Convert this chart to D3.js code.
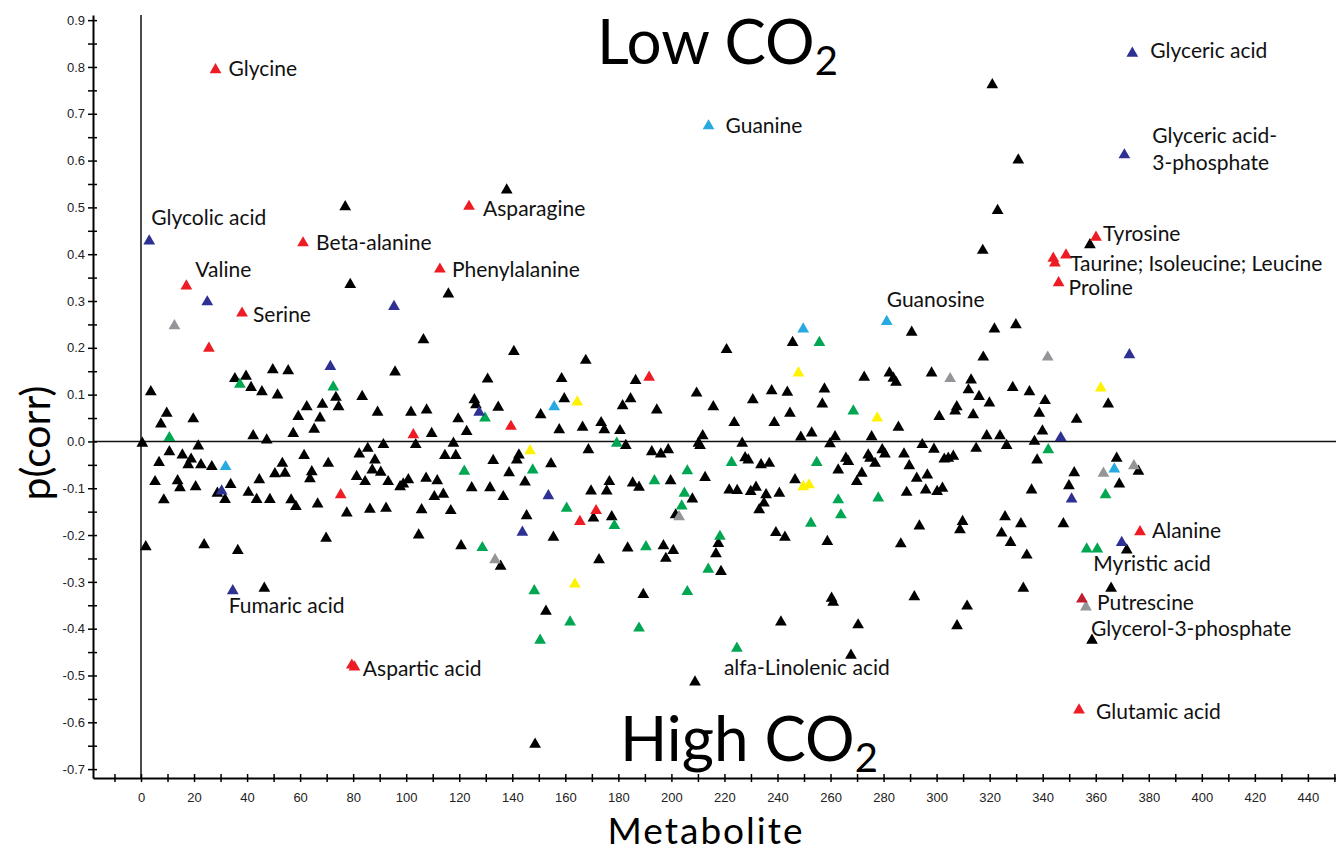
<!DOCTYPE html>
<html>
<head>
<meta charset="utf-8">
<script src="https://cdn.jsdelivr.net/npm/d3@7"></script>
<style>
  body { margin: 0; background: #fff; }
  svg { display: block; }
</style>
</head>
<body>
<div id="chart"></div>
<script>
// metabolite index, p(corr) -- one array per colour class
const black = [
  [77.0,0.501],[78.9,0.335],
  [106.5,0.217],[95.8,0.148],[49.7,0.153],[55.5,0.151],[35.4,0.134],[39.6,0.139],[41.5,0.115],[45.6,0.106],
  [51.5,0.099],[73.5,0.094],[74.5,0.074],[68.4,0.079],[62.5,0.074],[67.5,0.050],[59.3,0.053],[65.3,0.026],
  [57.4,0.017],[83.4,0.096],[89.2,0.062],[101.8,0.062],[107.7,0.067],[3.7,0.106],[9.7,0.060],[7.5,0.037],
  [19.7,0.048],[0.5,-0.004],[21.6,-0.010],[42.3,0.012],[47.4,0.003],[103.6,-0.007],[91.4,-0.007],[85.5,-0.015],
  [82.3,-0.027],[88.2,-0.040],[87.2,-0.061],[90.4,-0.066],[81.3,-0.075],[84.5,-0.086],[93.2,-0.086],[97.7,-0.097],
  [98.9,-0.091],[100.8,-0.082],[107.5,-0.079],[10.7,-0.022],[15.6,-0.029],[18.9,-0.038],[6.8,-0.045],[17.8,-0.050],
  [22.6,-0.050],[26.7,-0.054],[5.3,-0.086],[13.8,-0.084],[14.7,-0.099],[20.6,-0.097],[8.6,-0.125],[28.8,-0.111],
  [31.7,-0.124],[33.8,-0.092],[40.5,-0.109],[43.6,-0.124],[48.6,-0.124],[44.6,-0.082],[50.5,-0.069],[53.3,-0.047],
  [54.3,-0.068],[61.5,-0.030],[64.4,-0.065],[63.7,-0.080],[70.6,-0.047],[56.6,-0.125],[58.4,-0.139],[66.6,-0.134],
  [77.6,-0.153],[86.3,-0.145],[92.4,-0.143],[105.8,-0.146],[69.8,-0.207],[104.7,-0.200],[1.8,-0.225],[23.8,-0.221],
  [36.5,-0.233],[46.5,-0.314],
  [137.9,0.537],[115.9,0.315],
  [140.6,0.192],[167.7,0.173],[130.7,0.133],[158.6,0.134],[186.5,0.130],[209.5,0.103],[125.7,0.089],[126.3,0.078],
  [119.6,0.048],[134.7,0.073],[122.8,0.021],[109.6,0.017],[117.8,-0.004],[150.7,0.057],[159.6,0.091],[157.7,0.025],
  [166.5,0.030],[173.5,0.040],[174.7,0.025],[181.6,0.076],[184.6,0.091],[194.5,0.067],[180.6,0.023],[182.8,-0.009],
  [168.7,-0.018],[192.6,-0.022],[196.0,-0.027],[198.8,-0.018],[210.2,-0.004],[114.6,-0.030],[118.7,-0.030],[142.5,-0.029],
  [141.7,-0.040],[132.8,-0.041],[154.6,-0.048],[138.8,-0.067],[144.8,-0.087],[111.7,-0.084],[110.6,-0.118],[114.0,-0.113],
  [124.7,-0.099],[131.6,-0.099],[136.6,-0.118],[169.7,-0.106],[175.6,-0.106],[176.6,-0.086],[185.4,-0.089],[187.8,-0.098],
  [199.7,-0.084],[207.9,-0.123],[201.6,-0.157],[116.8,-0.148],[145.4,-0.159],[170.6,-0.164],[177.5,-0.161],[155.5,-0.205],
  [120.7,-0.223],[183.5,-0.228],[197.0,-0.223],[200.7,-0.233],[197.9,-0.250],[135.6,-0.267],[172.7,-0.253],[189.4,-0.327],
  [290.6,0.233],[321.8,0.240],[220.8,0.196],[245.7,0.211],[317.6,0.180],[272.7,0.137],[282.2,0.146],[283.7,0.135],
  [284.7,0.126],[298.1,0.146],[313.0,0.131],[312.0,0.110],[316.0,0.096],[319.9,0.082],[307.6,0.074],[307.0,0.065],
  [313.8,0.057],[301.0,0.053],[215.8,0.074],[230.7,0.089],[237.8,0.108],[243.7,0.105],[257.7,0.112],[256.9,0.080],
  [244.7,0.060],[238.8,0.040],[223.7,0.040],[285.6,0.030],[211.8,0.012],[210.8,-0.009],[226.7,-0.004],[248.8,0.009],
  [252.9,0.018],[261.7,0.010],[259.8,-0.005],[275.5,0.010],[279.5,-0.018],[280.5,-0.027],[294.6,-0.007],[299.0,-0.017],
  [314.9,-0.015],[318.9,0.012],[323.9,0.012],[326.4,-0.009],[227.8,-0.035],[229.0,-0.040],[233.8,-0.050],[236.9,-0.047],
  [265.8,-0.036],[266.7,-0.043],[262.9,-0.061],[274.2,-0.029],[274.9,-0.036],[276.8,-0.047],[287.7,-0.027],[289.7,-0.052],
  [271.8,-0.068],[269.9,-0.086],[292.5,-0.079],[296.5,-0.072],[302.9,-0.038],[304.4,-0.036],[306.3,-0.032],[212.7,-0.077],
  [246.6,-0.082],[221.8,-0.104],[224.8,-0.105],[229.9,-0.107],[231.9,-0.098],[235.7,-0.114],[240.7,-0.111],[234.9,-0.132],
  [233.1,-0.146],[288.7,-0.109],[295.9,-0.104],[300.2,-0.107],[302.2,-0.100],[293.5,-0.181],[309.8,-0.171],[308.8,-0.189],
  [325.8,-0.161],[324.5,-0.196],[239.4,-0.195],[242.8,-0.205],[258.8,-0.214],[286.5,-0.219],[217.7,-0.218],[216.8,-0.240],
  [218.7,-0.278],[260.4,-0.335],[291.6,-0.332],
  [321.0,0.762],[330.8,0.601],[323.0,0.493],[317.4,0.408],[357.8,0.420],
  [329.9,0.249],[328.7,0.115],[335.0,0.106],[340.9,0.087],[338.7,0.060],[364.7,0.080],[352.8,0.047],[339.9,0.022],
  [336.9,0.000],[337.9,-0.040],[367.9,-0.036],[351.9,-0.067],[376.1,-0.064],[335.8,-0.104],[349.9,-0.095],[368.9,-0.091],
  [331.8,-0.176],[347.8,-0.176],[327.9,-0.216],[334.0,-0.243],[371.7,-0.232],[332.7,-0.314],[365.8,-0.314],[358.6,-0.425],
  [152.7,-0.363],[208.9,-0.514],[148.6,-0.647],[307.7,-0.394],[270.4,-0.392],[241.3,-0.386],[261.0,-0.344],[267.7,-0.457],
  [311.5,-0.352]
];
const red = [
  [28.1,0.794],[61.1,0.424],[17.1,0.332],[38.1,0.274],[25.6,0.199],[102.7,0.014],[75.3,-0.114],[123.7,0.502],
  [112.7,0.368],[139.5,0.032],[191.6,0.137],[171.6,-0.148],[165.5,-0.171],[79.5,-0.478],[80.5,-0.482],[360.1,0.436],
  [348.8,0.398],[344.0,0.391],[344.6,0.381],[346.0,0.339],[376.7,-0.193],[353.7,-0.574]
];
const darkRed = [[354.8,-0.337]];
const blue = [
  [3.1,0.428],[25.0,0.298],[95.4,0.288],[71.4,0.160],[30.4,-0.106],[34.6,-0.319],[127.5,0.062],[153.6,-0.116],
  [143.8,-0.194],[373.8,0.829],[370.8,0.612],[372.7,0.185],[346.8,0.008],[350.9,-0.123],[369.8,-0.216]
];
const cyan = [[31.9,-0.054],[155.8,0.074],[214.0,0.674],[281.2,0.256],[249.7,0.240],[367.0,-0.059]];
const green = [
  [37.3,0.122],[72.5,0.116],[10.7,0.008],[129.7,0.050],[121.9,-0.064],[147.7,-0.061],[179.4,-0.004],[193.6,-0.084],
  [206.0,-0.063],[204.9,-0.111],[203.9,-0.138],[160.5,-0.143],[178.5,-0.180],[128.7,-0.227],[190.4,-0.225],[148.3,-0.319],
  [206.0,-0.321],[255.8,0.211],[268.6,0.065],[222.7,-0.045],[254.8,-0.045],[262.9,-0.125],[263.9,-0.157],[278.0,-0.121],
  [252.6,-0.175],[218.3,-0.203],[213.9,-0.273],[342.1,-0.018],[363.7,-0.114],[356.6,-0.230],[360.6,-0.230],[161.8,-0.386],
  [150.5,-0.425],[187.8,-0.399],[224.7,-0.442]
];
const yellow = [[164.5,0.084],[146.7,-0.020],[163.6,-0.305],[247.9,0.146],[277.6,0.050],[249.7,-0.097],[251.9,-0.093],[361.9,0.114]];
const gray = [[12.6,0.247],[202.9,-0.161],[133.5,-0.253],[305.1,0.134],[341.9,0.180],[362.9,-0.068],[374.4,-0.052],[356.3,-0.354]];

// named metabolites and the point each one belongs to
const labelNames = [
  "Glycine","Glycolic acid","Beta-alanine","Valine","Serine","Fumaric acid","Aspartic acid","Asparagine",
  "Phenylalanine","Guanine","Guanosine","alfa-Linolenic acid","Glyceric acid",["Glyceric acid-","3-phosphate"],
  "Tyrosine","Taurine; Isoleucine; Leucine","Proline","Alanine","Myristic acid","Putrescine","Glycerol-3-phosphate","Glutamic acid"
];
const labelPoints = [
  [28.1,0.794],[3.1,0.428],[61.1,0.424],[17.1,0.332],[38.1,0.274],[34.6,-0.319],[79.5,-0.478],[123.7,0.502],
  [112.7,0.368],[214.0,0.674],[281.2,0.256],[224.7,-0.442],[373.8,0.829],[370.8,0.612],
  [360.1,0.436],[348.8,0.398],[346.0,0.339],[376.7,-0.193],[360.6,-0.230],[354.8,-0.337],[356.3,-0.354],[353.7,-0.574]
];
// pixel offsets of each label from its point
const labelOffsets = [
  [13,6],[2,-16],[13,7],[9,-9],[11,9],[-4,22],[11,11],[14,10],
  [12,8],[17,7],[0,-15],[-13,27],[18,5],[28,-12],
  [7,4],[4,16],[10,12],[12,6],[-4,22],[15,11],[5,29],[17,9]
];

const W = 1336, H = 852;
const x = d3.scaleLinear().domain([-18.1, 450.6]).range([93, 1336]);
const y = d3.scaleLinear().domain([0.911, -0.719]).range([15, 778]);

const svg = d3.select("#chart").append("svg")
  .attr("width", W).attr("height", H)
  .style("font-family", "Lato, 'Open Sans', sans-serif");

// zero lines
svg.append("line")
  .attr("x1", 93).attr("x2", W).attr("y1", y(0)).attr("y2", y(0))
  .attr("stroke", "#111").attr("stroke-width", 1.5);
svg.append("line")
  .attr("x1", x(0)).attr("x2", x(0)).attr("y1", y(0.911)).attr("y2", y(-0.719))
  .attr("stroke", "#111").attr("stroke-width", 1.5);

// y axis
const yTicks = d3.range(-14, 19).map(i => i * 0.05);
const yAxis = d3.axisLeft(y).tickValues(yTicks).tickSizeOuter(0)
  .tickFormat(v => Math.round(v * 100) % 10 === 0 ? (Math.abs(v) < 1e-9 ? "0.0" : v.toFixed(1)) : "");
const gy = svg.append("g").attr("transform", "translate(93,0)").call(yAxis);
gy.selectAll(".tick line").attr("x1", 4).attr("x2", -5).attr("stroke-width", 1.5);
gy.selectAll(".tick text").attr("x", -8)
  .style("font-family", "'Liberation Sans', Arial, sans-serif").style("font-size", "13px").attr("fill", "#222");
gy.select(".domain").attr("stroke-width", 2);

// x axis
const xTicks = d3.range(-10, 451, 10);
const xAxis = d3.axisBottom(x).tickValues(xTicks).tickSizeOuter(0)
  .tickFormat(v => (v % 20 === 0 && v >= 0 && v <= 440) ? v : "");
const gx = svg.append("g").attr("transform", "translate(0,778)").call(xAxis);
gx.selectAll(".tick line").attr("y1", -4).attr("y2", 4).attr("stroke-width", 1.5);
gx.selectAll(".tick text").attr("y", 15)
  .style("font-family", "'Liberation Sans', Arial, sans-serif").style("font-size", "13px").attr("fill", "#222");
gx.select(".domain").attr("stroke-width", 2);

// triangles
const tri = d3.symbol().type(d3.symbolTriangle).size(60);
const groups = [
  [black, "#000000"], [gray, "#939598"], [green, "#00a651"], [yellow, "#fff200"],
  [cyan, "#27aae1"], [blue, "#2e3192"], [red, "#ed1c24"], [darkRed, "#be1e2d"]
];
groups.forEach(([data, color]) => {
  svg.append("g").selectAll("path").data(data).join("path")
    .attr("d", tri)
    .attr("transform", d => `translate(${x(d[0])},${y(d[1])})`)
    .attr("fill", color);
});

// labels
const lab = svg.append("g").style("font-size", "21px").attr("fill", "#111");
labelNames.forEach((name, i) => {
  const p = labelPoints[i], o = labelOffsets[i];
  const t = lab.append("text").attr("x", x(p[0]) + o[0]).attr("y", y(p[1]) + o[1]);
  if (Array.isArray(name)) {
    name.forEach((line, j) => t.append("tspan").attr("x", x(p[0]) + o[0]).attr("dy", j ? 27 : 0).text(line));
  } else {
    t.text(name);
  }
});

// big annotations
const low = svg.append("text").attr("x", 597).attr("y", 64).style("font-size", "62px").attr("fill", "#000");
low.append("tspan").text("Low CO");
low.append("tspan").attr("dy", 11).style("font-size", "40px").text("2");
const high = svg.append("text").attr("x", 620).attr("y", 761).style("font-size", "62px").attr("fill", "#000");
high.append("tspan").text("High CO");
high.append("tspan").attr("dy", 11).style("font-size", "40px").text("2");

svg.append("text").attr("transform", "translate(50,443) rotate(-90)")
  .attr("text-anchor", "middle").style("font-size", "41px").text("p(corr)");
svg.append("text").attr("x", 706).attr("y", 844)
  .attr("text-anchor", "middle").style("font-size", "37px").style("letter-spacing", "2px").text("Metabolite");
</script>
</body>
</html>
